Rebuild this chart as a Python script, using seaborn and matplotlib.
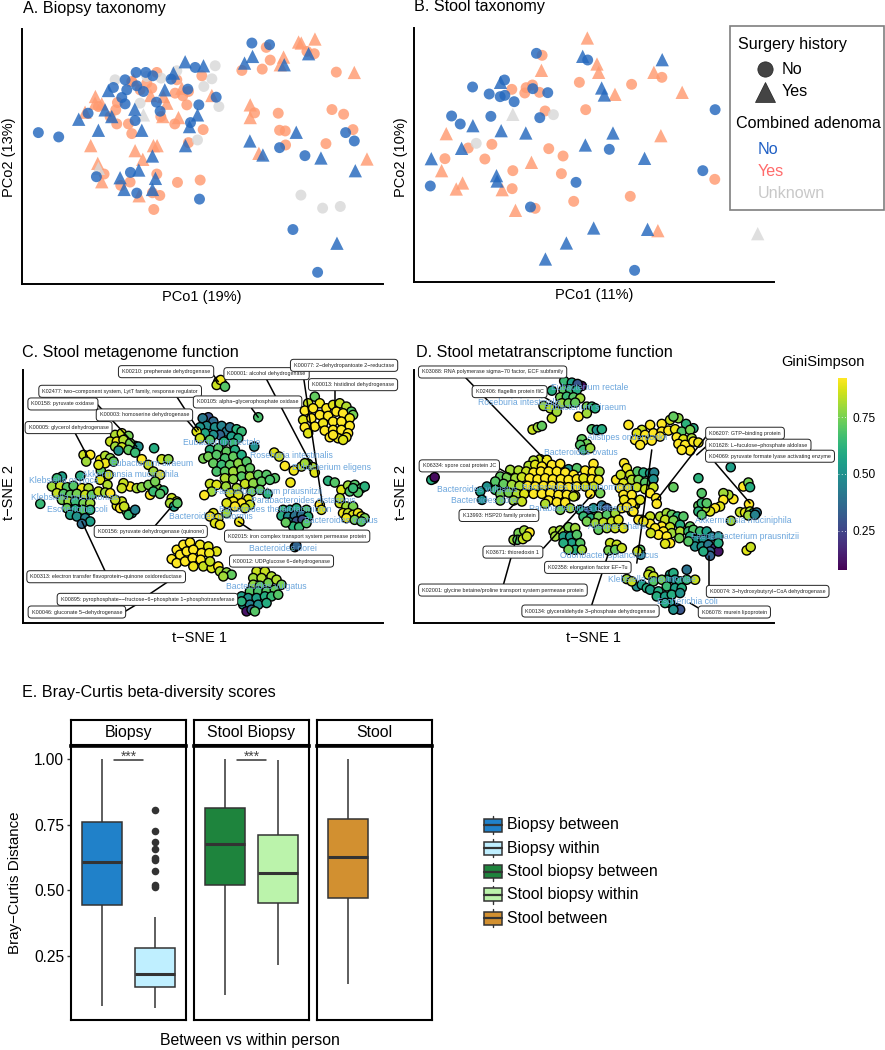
import numpy as np
import pandas as pd
import matplotlib
matplotlib.use('Agg')
import matplotlib.pyplot as plt
from matplotlib.patches import Rectangle
import seaborn as sns

W, H = 885, 1050

# A. Biopsy taxonomy (arbitrary PCo units)
a_no_circle = [(115,398),(176,411),(755,130),(808,135),(289,530),(391,517),(410,579),(598,597),(878,688),(952,816),(1036,398),(1062,423),(914,467),(838,443),(648,292),(596,315),(480,334),(469,307),(571,368),(563,268),(585,203),(380,270),(340,263),(365,293),(375,312),(405,362),(264,340),(408,218),(437,218),(375,240),(458,228),(513,238),(430,275),(410,258)]
a_no_tri = [(236,358),(295,391),(325,272),(404,328),(425,391),(494,270),(555,186),(610,198),(592,345),(568,380),(556,437),(457,468),(416,510),(360,533),(372,568),(457,568),(466,535),(733,190),(757,170),(852,195),(925,162),(749,423),(788,465),(888,397),(962,474),(1065,512),(1010,729),(520,220),(335,350),(315,330)]
a_yes_circle = [(725,212),(786,208),(810,181),(798,143),(920,155),(942,162),(1008,217),(995,329),(1030,343),(1058,389),(977,431),(856,435),(855,393),(838,391),(834,340),(763,339),(609,389),(565,428),(524,372),(482,350),(395,401),(385,372),(350,372),(330,350),(347,330),(352,308),(295,320),(560,315),(548,288),(525,280),(565,275),(530,240),(470,218),(455,265),(420,270),(395,245),(440,250),(600,540),(532,547),(470,522),(312,522),(390,546),(362,556),(457,578),(479,586),(461,628),(605,228)]
a_yes_tri = [(286,290),(285,310),(305,312),(255,337),(272,437),(293,490),(305,545),(405,452),(428,478),(460,437),(471,437),(417,587),(452,287),(500,310),(488,350),(535,353),(635,287),(750,315),(750,353),(776,460),(850,172),(840,195),(895,127),(903,130),(944,118),(1062,218),(1100,477),(490,290),(400,240),(545,265)]
a_unk_circle = [(645,198),(635,237),(611,260),(656,320),(592,420),(902,585),(967,624),(1020,619),(530,213),(483,235),(345,240),(420,310),(440,230)]
a_unk_tri = [(430,345),(295,505)]

# B. Stool taxonomy
b_no_circle = [(409,161),(563,181),(313,241),(217,262),(267,283),(300,291),(314,287),(342,306),(398,267),(443,279),(154,349),(180,373),(272,350),(419,354),(628,449),(90,559),(528,548),(391,622),(704,812),(909,513),(946,330)]
b_no_tri = [(301,248),(548,170),(787,180),(605,265),(613,286),(218,378),(303,393),(377,400),(184,446),(93,477),(639,400),(556,436),(734,476),(289,528),(291,544),(581,685),(743,689),(499,730),(436,778)]
b_yes_circle = [(426,167),(335,269),(378,264),(397,256),(374,280),(418,278),(538,248),(695,254),(786,233),(557,330),(435,334),(204,445),(275,434),(134,477),(254,478),(446,447),(489,469),(484,522),(338,513),(336,567),(521,605),(691,590),(405,626),(945,539)]
b_yes_tri = [(562,115),(591,193),(596,218),(424,212),(762,218),(645,284),(847,278),(138,402),(783,408),(394,488),(124,513),(187,550),(168,568),(306,570),(346,632),(774,693)]
b_unk_circle = [(460,345),(228,431)]
b_unk_tri = [(338,344),(1074,702)]

# C. metagenome function: (tsne1, tsne2, GiniSimpson)
c_left = [(240,408,.6),(185,410,.55),(170,415,.65),(155,440,.8),(180,438,.85),(200,442,.7),(220,438,.7),(245,445,.9),(265,445,.82),(170,460,.85),(190,462,.7),(210,465,.72),(230,462,.75),(255,465,.85),(275,465,.72),(185,480,.75),(205,485,.8),(225,485,.65),(250,490,.75),(270,490,.8),(200,505,.72),(225,508,.6),(248,510,.7),(270,510,.62),(210,525,.55),(230,530,.5),(255,535,.45),(270,545,.55),(245,552,.38),(120,492,.65),
          (302,392,.72),(325,405,.85),(300,420,.88),(322,435,.82),(295,455,.85),(315,458,.8),(330,460,.92),(350,498,.88),(365,485,.85),(345,480,.85),(360,505,.92),(380,515,.72),(395,520,.55),(385,525,.65),(405,510,.45),(372,500,.85)]
c_upper_left = [(345,285,.82),(365,280,.85),(385,288,.75),(405,318,.55),(415,320,.5),(330,305,.85),(350,305,.9),(370,300,.82),(390,310,.75),(345,320,.8),(365,322,.85),(385,330,.72),(405,338,.65),(355,332,.5),(462,325,.6),
                (250,345,.85),(270,345,.92),(258,365,.8),(300,360,.9),(315,348,.82),(330,355,.78),(315,370,.9),(340,365,.72),(295,375,.88),
                (425,358,.92),(445,375,.85),(485,358,.85),(505,358,.78),(460,395,.8),(480,405,.9),(390,440,.92),(370,430,.85),(365,445,.85),(410,445,.82),(425,442,.78),(445,435,.75),(450,465,.92),(472,445,.75),(490,452,.65),(460,455,.65),(480,462,.7),(465,425,.75),
                (515,475,.85),(530,485,.85),(510,490,.82),(522,500,.55),(532,490,.7)]
c_rectale = [(655,125,.8),(668,133,.75),(650,135,.85),(662,120,.9),(675,140,.7),(775,232,.68),
             (625,232,.3),(608,235,.42),(640,245,.38),(620,258,.48),(600,262,.52),(645,262,.5),(665,258,.45),(680,275,.42),(690,262,.4),(660,285,.35),(640,285,.5),(615,280,.58),(710,268,.62),(725,275,.65),(695,290,.55),(715,295,.6),(590,275,.88),(600,295,.85),(630,300,.7),(672,305,.6),(700,310,.65),(763,320,.5)]
c_centre = [(610,356,.75),(630,330,.62),(655,325,.7),(680,335,.72),(705,330,.6),(625,350,.75),(650,345,.7),(675,355,.68),(700,350,.72),(725,345,.6),
            (640,370,.72),(665,375,.65),(690,375,.72),(715,370,.78),(740,365,.7),(650,395,.68),(675,395,.72),(700,395,.8),(725,390,.75),(750,385,.72),
            (725,410,.7),(750,410,.8),(775,405,.72),(800,405,.7),(825,415,.7),(675,415,.82),(700,418,.78),(735,432,.85),(760,430,.78),(785,425,.72),(810,420,.68),
            (630,432,.85),(650,435,.88),(678,440,.8),(710,445,.82),(755,455,.75),(780,450,.72),(803,462,.62),(635,455,.8),(613,466,.92),(690,460,.85),(715,465,.88),(745,478,.88),(700,485,.9),(725,490,.92),(680,490,.88),(750,495,.85),(705,500,.92),(735,505,.85),(680,520,.8),
            (640,520,.88),(655,535,.9),(630,530,.92),(645,550,.88),(660,555,.9),(718,546,.9)]
c_theta = [(850,510,.65),(870,510,.55),(890,505,.6),(920,510,.7),(845,528,.6),(865,530,.48),(885,528,.4),(905,525,.4),(925,530,.6),(870,548,.5),(890,545,.3),(908,540,.28),(880,560,.62),(898,562,.65),(920,550,.7),(858,548,.72),(885,622,.7),(890,618,.35)]
c_right = [(945,170,.72),(925,190,.85),(960,190,.9),(915,212,.92),(940,205,.92),(980,205,.92),(1000,195,.88),(1020,190,.85),(1040,200,.82),(1055,215,.7),(1060,225,.75),(910,240,.88),(935,235,.92),(960,225,.92),(985,228,.92),(1010,215,.92),(1030,220,.92),(1050,235,.9),
           (915,262,.92),(945,260,.92),(970,250,.9),(1000,245,.92),(1025,245,.92),(1050,258,.92),(925,280,.88),(975,272,.92),(1000,270,.92),(1025,270,.92),(1045,280,.92),(990,292,.92),(1015,295,.9),(1040,292,.9),(1000,285,.92),(1030,300,.88),
           (823,338,.88),(838,350,.85),(855,378,.92),(872,428,.9),(882,392,.9),(905,380,.85),(925,372,.7),(940,382,.82),(945,398,.88),(915,370,.8),
           (985,423,.62),(1005,428,.7),(1025,450,.88),(1045,437,.8),(1065,435,.7),(1085,445,.68),(1095,440,.62),(1050,455,.68),(1075,458,.7),(1060,445,.65),
           (960,495,.92),(965,510,.88),(1020,490,.85),(1040,500,.8),(1060,500,.75),(1030,520,.9),(1045,520,.85),(1060,525,.88),(1075,520,.9),(1085,530,.88),(1095,535,.75),(1040,535,.9),(1065,540,.75),(1085,545,.7),(1020,475,.82)]
c_bottom = [(515,658,.92),(530,630,.92),(550,615,.92),(570,608,.92),(600,615,.9),(625,620,.88),(650,635,.88),(540,645,.92),(560,635,.92),(580,630,.92),(605,640,.92),(628,640,.9),(530,670,.92),(555,665,.92),(578,655,.92),(602,660,.92),(580,680,.9),(610,680,.85),(635,685,.88),(655,680,.92),(630,665,.85),(660,695,.82),(680,698,.78),(695,705,.72),(670,710,.8),
            (770,695,.85),(795,695,.85),(815,710,.82),(760,715,.8),(785,715,.82),(805,730,.75),(830,720,.82),(845,735,.75),(760,735,.78),(780,738,.72),(750,755,.7),(775,755,.68),(800,755,.7),(825,750,.72),(725,770,.55),(745,775,.5),(770,775,.55),(795,770,.6),(815,770,.65),(835,765,.7),(730,795,.5),(750,795,.45),(775,795,.5),(800,790,.6),(740,815,.12),(725,785,.62),(755,810,.35),(765,815,.7)]

# D. metatranscriptome function
d_top = [(492,123,.65),(515,128,.55),(545,138,.1),(532,132,.3),(455,152,.6),(490,150,.7),(510,148,.65),(530,150,.6),(480,172,.75),(500,170,.65),(520,172,.7),(540,175,.8),(485,190,.8),(505,190,.75),(525,188,.72),(430,198,.8),(450,205,.82),(455,235,.85),(560,200,.75),(575,200,.65),(585,205,.6),(535,230,.92),(560,220,.8),(470,215,.8),
         (397,269,.85),(413,262,.8),(425,258,.72),(575,268,.7),(590,270,.5),(605,268,.6),(545,298,.72),(560,312,.75),(540,315,.7),(550,330,.65),(570,325,.8),(100,417,.7),(93,420,.6),(103,412,.1)]
d_centre = [(420,358,.85),(440,360,.9),(400,362,.82),(385,378,.82),(405,375,.88),(425,380,.92),(455,375,.92),(480,372,.92),(505,388,.5),(530,385,.7),(580,372,.92),
            (330,390,.8),(355,392,.82),(378,395,.85),(400,398,.92),(422,395,.92),(445,395,.92),(470,395,.92),(495,398,.92),(520,405,.92),(555,392,.92),(578,395,.92),(598,395,.8),
            (300,410,.72),(320,412,.75),(345,415,.8),(365,412,.85),(388,415,.92),(412,418,.92),(435,415,.92),(458,418,.92),(482,418,.92),(505,420,.92),(530,418,.92),(550,415,.88),(575,418,.92),(595,420,.9),
            (285,425,.7),(310,432,.72),(335,435,.8),(358,438,.82),(382,438,.92),(405,440,.92),(430,438,.92),(455,438,.92),(480,440,.92),(505,442,.92),(530,440,.92),(555,440,.88),(580,440,.85),
            (260,440,.5),(240,455,.55),(285,450,.65),(300,462,.75),(325,458,.75),(350,462,.82),(372,462,.88),(400,462,.92),(425,462,.92),(450,460,.92),(475,465,.92),(500,465,.92),(525,468,.88),(570,462,.92),(600,460,.75),
            (245,480,.5),(300,482,.75),(340,482,.8),(365,485,.85),(445,482,.92),(470,487,.92),(495,488,.92),(520,470,.85),(435,492,.82),(480,510,.75),(510,505,.8),(540,510,.6)]
d_shahii = [(565,515,.3),(580,505,.5),(605,497,.4),(620,505,.3),(550,530,.65),(572,535,.6),(595,530,.75),(620,525,.7),(645,520,.8),(665,505,.9),(690,490,.85),(705,495,.8),(560,545,.75),(585,550,.8),(610,548,.85),(635,545,.85),(655,540,.88),(725,540,.9),(595,570,.72),(620,565,.8),(645,565,.85),(670,565,.88),(700,500,.88),(695,515,.85),
            (340,600,.8),(355,580,.75),(372,572,.8),(388,578,.92),(352,600,.7),(368,598,.85),(380,590,.85),
            (460,575,.82),(480,572,.8),(505,562,.75),(525,565,.8),(465,590,.8),(490,590,.55),(510,590,.55),(530,585,.7),(515,610,.55),(540,610,.7),(490,610,.6),(525,630,.6),(545,630,.8),(505,630,.75),
            (630,610,.85),(650,615,.85),(625,632,.75),(645,630,.72),(665,625,.85),(720,630,.7),(722,645,.45),(712,635,.85)]
d_alistipes = [(685,255,.92),(725,270,.85),(750,255,.92),(785,252,.92),(810,240,.85),(835,235,.78),(820,230,.72),(858,252,.62),(880,265,.6),(710,280,.88),(735,285,.92),(760,280,.92),(785,275,.92),(805,272,.92),(825,268,.9),(845,275,.7),(870,270,.75),(705,300,.92),(730,302,.92),(755,302,.92),(780,290,.92),(830,292,.92),(850,298,.88),(875,295,.82),(835,312,.92),(855,315,.92),(880,305,.92),(870,332,.92),(845,330,.92),(895,308,.9),(720,315,.92)]
d_middle = [(672,370,.92),(680,385,.9),(648,420,.92),(662,405,.85),(690,405,.85),(712,395,.7),(730,398,.6),(750,400,.5),(762,398,.45),(670,430,.88),(695,420,.82),(715,420,.75),(735,428,.7),(760,418,.5),(660,445,.92),(685,445,.9),(710,442,.85),(735,448,.85),(760,442,.85),(670,465,.92),(695,465,.92),(750,460,.92),(672,480,.9),(695,490,.92),(680,502,.92),(700,515,.92),(720,480,.88),
            (768,475,.92),(770,492,.92),(820,442,.72),(895,415,.62),(905,460,.7),(992,382,.55),(1030,440,.92),(1045,428,.75),(1050,442,.6)]
d_right = [(1000,478,.92),(985,465,.82),(970,460,.8),(970,480,.92),(960,500,.88),(945,505,.92),(930,515,.88),(915,505,.8),(895,498,.72),(905,490,.65),(920,490,.7),(895,515,.62),(905,525,.7),(993,543,.8),
           (1020,517,.85),(1035,518,.88),(1047,493,.92),(1050,515,.8),(1060,520,.55),(1070,518,.4),(1045,527,.8),(1065,525,.45),(1040,632,.88),(1052,622,.85),
           (715,540,.92),(750,530,.85),(750,552,.92),(780,530,.82),(800,520,.8),(815,525,.72),(832,530,.62),(850,530,.7),(795,540,.85),(820,542,.75),(840,555,.6),(870,560,.72),(785,560,.92),(810,562,.85),(765,565,.92),(790,575,.92),(815,580,.8),(840,575,.82),(865,575,.65),(775,585,.92),(800,590,.92),(752,580,.85),(810,610,.92),(838,595,.75),(795,612,.88),(730,545,.9),
           (880,570,.7),(900,575,.65),(920,575,.55),(870,590,.6),(890,600,.5),(910,600,.5),(935,590,.45),(955,590,.55),(885,620,.5),(905,620,.5),(925,615,.42),(945,625,.2),(955,635,.12),(930,635,.35),(930,648,.35),(955,610,.6),(910,635,.6),(865,605,.7)]
d_bottom = [(750,695,.8),(745,705,.85),(760,710,.85),(810,705,.55),(820,700,.6),(860,690,.4),(825,720,.5),(800,720,.55),(885,720,.85),(710,740,.5),(725,735,.55),(740,745,.6),(760,725,.7),(785,720,.75),(840,725,.6),(860,720,.65),(750,750,.55),(775,755,.6),(800,740,.65),(825,745,.55),(845,745,.6),(770,770,.6),(795,770,.55),(815,765,.6),(840,760,.5),(810,790,.55),(830,805,.35),(840,810,.3),(820,810,.5),(795,790,.6),(680,718,.8),(695,725,.85)]

# taxon names (name, x, y)
c_taxa = [("Eubacterium rectale",665,307),("Roseburia intestinalis",875,347),("Eubacterium eligens",995,383),("Eubacterium siraeum",457,370),("Akkermansia muciniphila",390,404),("Klebsiella oxytoca",192,422),("Klebsiella pneumoniae",224,472),("Escherichia coli",230,510),("Faecalibacterium prausnitzii",805,456),("Parabacteroides distasonis",910,481),("Bacteroides thetaiotaomicron",827,510),("Bacteroides uniformis",633,531),("Bacteroides ovatus",1023,543),("Bacteroides dorei",850,625),("Bacteroides vulgatus",800,739)]
d_taxa = [("Eubacterium rectale",568,144),("Roseburia intestinalis",358,187),("Eubacterium siraeum",555,203),("Alistipes onderdonkii",680,293),("Bacteroides ovatus",543,339),("Bacteroides vulgatus",232,450),("Bacteroides dorei",254,482),("Bacteroides thetaiotaomicron",533,442),("Parabacteroides distasonis",543,507),("Alistipes shahii",650,561),("Akkermansia muciniphila",1030,543),("Faecalibacterium prausnitzii",1035,590),("Odoribacter splanchnicus",628,648),("Klebsiella pneumoniae",755,720),("Escherichia coli",862,785)]

# KO labels (text, box x, box y, line from x, y, line to x, y)
c_kos = [("K00210: prephenate dehydrogenase",498,95,640,105,655,125),
         ("K00001: alcohol dehydrogenase",800,101,800,118,935,375),
         ("K00077: 2\u2212dehydropantoate 2\u2212reductase",1033,76,908,90,968,495),
         ("K00013: histidinol dehydrogenase",1060,134,1005,150,1005,200),
         ("K02477: two\u2212component system, LytT family, response regulator",360,154,530,170,595,270),
         ("K00158: pyruvate oxidase",188,192,290,192,410,320),
         ("K00105: alpha\u2212glycerophosphate oxidase",743,186,755,205,775,232),
         ("K00003: homoserine dehydrogenase",433,225,560,240,590,275),
         ("K00005: glycerol dehydrogenase",205,263,225,280,262,350),
         ("K00156: pyruvate dehydrogenase (quinone)",452,575,465,558,515,500),
         ("K02015: iron complex transport system permease protein",892,589,755,572,715,545),
         ("K00012: UDPglucose 6\u2212dehydrogenase",845,664,845,664,845,664),
         ("K00313: electron transfer flavoprotein\u2212quinone oxidoreductase",318,711,315,695,245,545),
         ("K00895: pyrophosphate\u2212\u2212fructose\u22126\u2212phosphate 1\u2212phosphotransferase",442,779,450,762,520,715),
         ("K00046: gluconate 5\u2212dehydrogenase",230,817,375,815,450,770)]
d_kos = [("K03088: RNA polymerase sigma\u221270 factor, ECF subfamily",277,96,195,112,430,355),
         ("K02406: flagellin protein fliC",328,155,430,170,470,195),
         ("K06334: spore coat protein JC",177,378,295,385,330,405),
         ("K13993: HSP20 family protein",296,527,325,510,345,490),
         ("K03671: thioredoxin 1",338,637,430,625,575,465),
         ("K02358: elongation factor EF\u2212Tu",563,683,710,670,755,330),
         ("K02001: glycine betaine/proline transport system permease protein",308,751,310,733,350,590),
         ("K00134: glyceraldehyde 3\u2212phosphate dehydrogenase",571,814,575,795,625,640),
         ("K06207: GTP\u2212binding protein",1035,280,918,290,770,480),
         ("K01628: L\u2212fuculose\u2212phosphate aldolase",1075,316,918,320,890,345),
         ("K04069: pyruvate formate lyase activating enzyme",1110,349,945,368,1050,490),
         ("K00074: 3\u2212hydroxybutyryl\u2212CoA dehydrogenase",1103,755,928,740,928,650),
         ("K06078: murein lipoprotein",1003,817,895,805,870,790)]

# E. box summaries: low, q1, median, q3, high
biopsy_between = [0.06, 0.445, 0.607, 0.76, 1.00]
biopsy_within = [0.05, 0.133, 0.18, 0.28, 0.40]
biopsy_outliers = [0.807, 0.725, 0.685, 0.657, 0.625, 0.615, 0.572, 0.52, 0.513]
stool_biopsy_between = [0.10, 0.52, 0.675, 0.815, 1.00]
stool_biopsy_within = [0.215, 0.452, 0.568, 0.71, 0.995]
stool_between = [0.145, 0.47, 0.628, 0.77, 1.00]
box_colors = {"Biopsy between": "#2081C9", "Biopsy within": "#BFEFFF", "Stool biopsy between": "#1E843D",
              "Stool biopsy within": "#BBF3AB", "Stool between": "#D29030"}
adenoma_colors = {"No": "#2468BD", "Yes": "#FF9A70", "Unknown": "#D8D8D8"}


def px_axes(l, t, r, b):
    return fig.add_axes([l / W, 1 - b / H, (r - l) / W, (b - t) / H])


def pcoa_frame(groups):
    rows = []
    for adenoma, surgery, pts in groups:
        rows += [(x, y, adenoma, surgery) for x, y in pts]
    return pd.DataFrame(rows, columns=["x", "y", "adenoma", "surgery"])


def clean_scatter_axes(ax, xlim, ylim):
    ax.set_xlim(*xlim)
    ax.set_ylim(*ylim)
    ax.set_xticks([])
    ax.set_yticks([])
    ax.set_xlabel("")
    ax.set_ylabel("")
    sns.despine(ax=ax)
    for side in ["left", "bottom"]:
        ax.spines[side].set_linewidth(1.4)
        ax.spines[side].set_color("black")


def draw_pcoa(ax, groups, xlim, ylim):
    sns.scatterplot(data=pcoa_frame(groups), x="x", y="y", hue="adenoma", style="surgery",
                    palette=adenoma_colors, markers={"No": "o", "Yes": "^"}, size="surgery",
                    sizes={"No": 62, "Yes": 92}, alpha=0.82, linewidth=0, legend=False, ax=ax, clip_on=False)
    clean_scatter_axes(ax, xlim, ylim)


def draw_tsne(ax, clusters, taxa, kos, xlim):
    pts = [p for cl in clusters for p in cl]
    df = pd.DataFrame(pts, columns=["x", "y", "gini"])
    sns.scatterplot(data=df, x="x", y="y", hue="gini", palette="viridis", hue_norm=(0.077, 0.922),
                    s=44, edgecolor="black", linewidth=1.0, legend=False, ax=ax, zorder=2, clip_on=False)
    clean_scatter_axes(ax, xlim, (850, 90))
    for name, x, y in taxa:
        ax.text(x, y, name, color="#6AA5DC", fontsize=6.2, ha="center", va="center", zorder=4)
    for label, x, y, x0, y0, x1, y1 in kos:
        ax.plot([x0, x1], [y0, y1], color="black", lw=1.1, zorder=3)
        ax.text(x, y, label, fontsize=3.9, color="#222222", ha="center", va="center", zorder=5,
                bbox=dict(boxstyle="round,pad=0.65,rounding_size=0.6", fc="white", ec="#222222", lw=0.7))


def draw_boxes(ax, strip, title, kinds, outliers=None, stars=False, first=False):
    rows = []
    for kind, group, values in kinds:
        rows += [(kind, group, v) for v in values]
    df = pd.DataFrame(rows, columns=["kind", "group", "value"])
    sns.boxplot(data=df, x="group", y="value", hue="kind", order=["between", "within"],
                palette=box_colors, hue_order=[k[0] for k in kinds], dodge=False, width=0.77, saturation=1,
                whis=(0, 100), showcaps=False, linewidth=1.1, linecolor="#333333",
                medianprops=dict(linewidth=2.2, color="#333333"), legend=False, ax=ax)
    if outliers:
        sns.scatterplot(x=["within"] * len(outliers), y=outliers, color="#333333", s=30, linewidth=0, ax=ax, legend=False)
    if stars:
        ax.plot([0.215, 0.785], [0.997, 0.997], color="#333333", lw=1.1)
        ax.text(0.5, 0.982, "***", fontsize=10, color="#444444", ha="center", va="bottom")
    ax.set_xlim(-0.6, 1.6)
    ax.set_ylim(0.006, 1.05)
    ax.set_xticks([])
    ax.set_xlabel("")
    ax.set_ylabel("")
    if first:
        ax.set_yticks([0.25, 0.5, 0.75, 1.0], ["0.25", "0.50", "0.75", "1.00"])
        ax.tick_params(axis="y", labelsize=11.2, length=3, width=1, color="#333333", left=True, pad=2)
    else:
        ax.set_yticks([])
    for sp in ax.spines.values():
        sp.set_linewidth(1.5)
        sp.set_color("black")
    ax.spines["top"].set_linewidth(2.6)
    strip.set_xticks([])
    strip.set_yticks([])
    for sp in strip.spines.values():
        sp.set_linewidth(1.5)
        sp.set_color("black")
    strip.text(0.5, 0.5, title, transform=strip.transAxes, fontsize=11.4, ha="center", va="center")


def main():
    global fig
    sns.set_theme(style="white")
    plt.rcParams['font.family'] = ['Liberation Sans', 'DejaVu Sans']
    plt.rcParams['text.color'] = 'black'
    plt.rcParams['ytick.color'] = 'black'
    fig = plt.figure(figsize=(W / 100, H / 100), dpi=100)

    # A and B
    ax_a = px_axes(22, 29, 383, 284)
    draw_pcoa(ax_a, [("Yes", "No", a_yes_circle), ("Yes", "Yes", a_yes_tri), ("Unknown", "No", a_unk_circle),
                     ("Unknown", "Yes", a_unk_tri), ("No", "No", a_no_circle), ("No", "Yes", a_no_tri)],
              (66, 1148), (851, 88))
    ax_b = px_axes(414, 28, 774, 282)
    draw_pcoa(ax_b, [("Yes", "No", b_yes_circle), ("Yes", "Yes", b_yes_tri), ("Unknown", "No", b_unk_circle),
                     ("Unknown", "Yes", b_unk_tri), ("No", "No", b_no_circle), ("No", "Yes", b_no_tri)],
              (41, 1123), (847, 85))

    # C and D
    ax_c = px_axes(23, 370, 383, 623)
    draw_tsne(ax_c, [c_left, c_upper_left, c_rectale, c_centre, c_theta, c_right, c_bottom], c_taxa, c_kos, (68, 1150))
    ax_d = px_axes(414, 370, 774, 623)
    draw_tsne(ax_d, [d_top, d_centre, d_shahii, d_alistipes, d_middle, d_right, d_bottom], d_taxa, d_kos, (41, 1122))

    cax = px_axes(838, 378, 847, 570)
    sm = plt.cm.ScalarMappable(norm=plt.Normalize(0.077, 0.922), cmap="viridis")
    cb = fig.colorbar(sm, cax=cax)
    cb.set_ticks([0.25, 0.5, 0.75])
    cb.ax.set_yticklabels(["0.25", "0.50", "0.75"], fontsize=8.6)
    cb.ax.tick_params(length=0, pad=4)
    cb.outline.set_visible(False)
    cax.hlines([0.25, 0.5, 0.75], 0, 1, transform=cax.get_yaxis_transform(), color="white", lw=0.6,
               linestyles=(0, (1, 3)))

    # E
    draw_boxes(px_axes(71, 746, 186, 1020), px_axes(71, 720, 186, 745), "Biopsy",
               [("Biopsy between", "between", biopsy_between), ("Biopsy within", "within", biopsy_within)],
               outliers=biopsy_outliers, stars=True, first=True)
    draw_boxes(px_axes(194, 746, 309, 1020), px_axes(194, 720, 309, 745), "Stool Biopsy",
               [("Stool biopsy between", "between", stool_biopsy_between), ("Stool biopsy within", "within", stool_biopsy_within)],
               stars=True)
    draw_boxes(px_axes(317, 746, 432, 1020), px_axes(317, 720, 432, 745), "Stool",
               [("Stool between", "between", stool_between)])

    # overlay in pixels for titles, legends and axis names
    ov = fig.add_axes([0, 0, 1, 1], zorder=10)
    ov.set_xlim(0, W)
    ov.set_ylim(H, 0)
    ov.axis("off")
    ov.patch.set_alpha(0)

    def txt(x, y, s, size=11.4, **kw):
        kw.setdefault("va", "center")
        ov.text(x, y, s, fontsize=size, **kw)

    txt(23, 8, "A. Biopsy taxonomy", 11.6)
    txt(414, 6, "B. Stool taxonomy", 11.6)
    txt(22, 353, "C. Stool metagenome function", 11.6)
    txt(416, 353, "D. Stool metatranscriptome function", 11.6)
    txt(22, 692, "E. Bray-Curtis beta-diversity scores", 11.6)
    txt(202, 297, "PCo1 (19%)", 10.5, ha="center")
    txt(594, 295, "PCo1 (11%)", 10.5, ha="center")
    txt(9, 157, "PCo2 (13%)", 10.5, ha="center", rotation=90)
    txt(401, 157, "PCo2 (10%)", 10.5, ha="center", rotation=90)
    txt(200, 638, "t\u2212SNE 1", 10.5, ha="center")
    txt(594, 638, "t\u2212SNE 1", 10.5, ha="center")
    txt(9, 492, "t\u2212SNE 2", 10.5, ha="center", rotation=90)
    txt(401, 492, "t\u2212SNE 2", 10.5, ha="center", rotation=90)
    txt(823, 362, "GiniSimpson", 10.5, ha="center")
    txt(15, 883, "Bray\u2212Curtis Distance", 10.9, ha="center", rotation=90)
    txt(250, 1041, "Between vs within person", 11.4, ha="center")

    # surgery / adenoma legend
    ov.add_patch(Rectangle((730, 26), 154, 184, fc="white", ec="#7F7F7F", lw=1.2))
    txt(738, 44, "Surgery history", 11.6)
    ov.plot([765], [69], marker="o", ms=11, color="#444444", mec="#222222", mew=0.5)
    ov.plot([765], [92], marker="^", ms=14, color="#444444", mec="#222222", mew=0.5)
    txt(782, 69, "No", 11.6)
    txt(782, 92, "Yes", 11.6)
    txt(736, 123, "Combined adenoma", 11.6)
    txt(758, 149, "No", 11.6, color="#1F5FC4")
    txt(758, 172, "Yes", 11.6, color="#FF6B6B")
    txt(758, 194, "Unknown", 11.6, color="#C8C8C8")

    # box legend
    for i, (label, color) in enumerate(box_colors.items()):
        yc = 825 + i * 23.3
        ov.plot([493, 493], [yc - 9, yc + 9], color="#333333", lw=1)
        ov.add_patch(Rectangle((484, yc - 6.5), 18, 13, fc=color, ec="#333333", lw=1.1, zorder=3))
        ov.plot([484, 502], [yc, yc], color="#333333", lw=1.6, zorder=4)
        txt(507, yc, label, 11.4)

    fig.savefig("out.png", dpi=100)
    plt.close(fig)


if __name__ == "__main__":
    main()
